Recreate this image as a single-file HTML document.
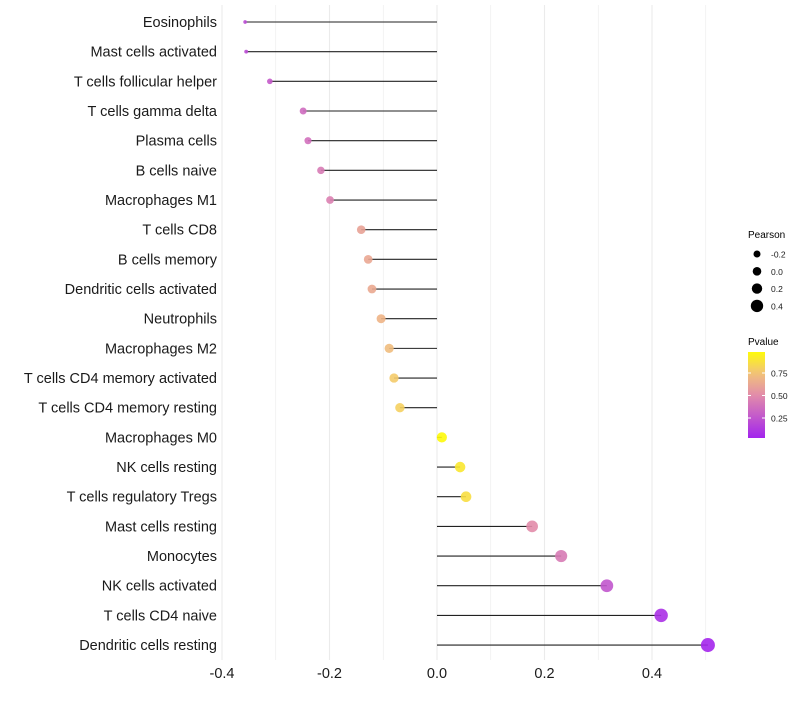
<!DOCTYPE html>
<html><head><meta charset="utf-8"><style>
body{margin:0;background:#fff;font-family:"Liberation Sans",sans-serif;}
svg text{font-family:"Liberation Sans",sans-serif;}
</style></head><body>
<svg id="chart" width="800" height="700" xmlns="http://www.w3.org/2000/svg"></svg>
<script>
const categories=["Eosinophils","Mast cells activated","T cells follicular helper","T cells gamma delta","Plasma cells","B cells naive","Macrophages M1","T cells CD8","B cells memory","Dendritic cells activated","Neutrophils","Macrophages M2","T cells CD4 memory activated","T cells CD4 memory resting","Macrophages M0","NK cells resting","T cells regulatory  Tregs ","Mast cells resting","Monocytes","NK cells activated","T cells CD4 naive","Dendritic cells resting"];
const pearson=[-0.357,-0.355,-0.311,-0.249,-0.24,-0.216,-0.199,-0.141,-0.128,-0.121,-0.104,-0.089,-0.08,-0.069,0.009,0.043,0.054,0.177,0.231,0.316,0.417,0.504];
const pvalue=[0.2,0.2,0.27,0.35,0.37,0.42,0.45,0.6,0.62,0.63,0.68,0.72,0.78,0.8,0.98,0.9,0.86,0.5,0.42,0.25,0.08,0.03];
const xTicks=[-0.4,-0.2,0.0,0.2,0.4];
const xTickLabels=["-0.4","-0.2","0.0","0.2","0.4"];
const sizeBreaks=[-0.2,0.0,0.2,0.4];
const pBreaks=[0.25,0.5,0.75];
const pBreakLabels=["0.25","0.50","0.75"];

const NS="http://www.w3.org/2000/svg";
const svg=document.getElementById('chart');
function mk(t,a,p){const e=document.createElementNS(NS,t);for(const k in a)e.setAttribute(k,a[k]);(p||svg).appendChild(e);return e;}
const xs=v=>437+v*537.5;
const ys=i=>22+i*29.67;
const rs=v=>1.5+5.5*Math.sqrt(Math.max(0,v+0.36)/0.86);
function lerp(a,b,t){return a.map((x,i)=>Math.round(x+(b[i]-x)*t));}
function col(p){const s=[[0,[160,32,240]],[0.5,[226,140,170]],[0.75,[242,196,120]],[1,[255,255,0]]];
for(let i=0;i<s.length-1;i++){if(p<=s[i+1][0]){const t=(p-s[i][0])/(s[i+1][0]-s[i][0]);const c=lerp(s[i][1],s[i+1][1],t);return `rgb(${c})`;}}return 'rgb(255,255,0)';}

// grid (vertical only)
const grid=mk('g',{});


for(let k=-4;k<=5;k++){const v=k/10;mk('line',{x1:xs(v),x2:xs(v),y1:5,y2:660,stroke:'#ebebeb','stroke-width':k%2==0?1.1:0.6},grid);}

categories.forEach((c,i)=>{
 const g=mk('g',{});
 
 
 mk('line',{x1:xs(0),x2:xs(pearson[i]),y1:ys(i),y2:ys(i),stroke:'#222','stroke-width':1.1},g);
 mk('circle',{cx:xs(pearson[i]),cy:ys(i),r:rs(pearson[i]),fill:col(pvalue[i]),'fill-opacity':0.9},g);
 const t=mk('text',{x:217,y:ys(i)+5,'text-anchor':'end','font-size':14.5,fill:'#1a1a1a'});t.textContent=c;
 
 
});
xTicks.forEach((v,i)=>{const t=mk('text',{x:xs(v),y:678,'text-anchor':'middle','font-size':14.5,fill:'#1a1a1a'});t.textContent=xTickLabels[i];
 
 });

// size legend
const lg=mk('g',{});


mk('text',{x:748,y:238,'font-size':10,fill:'#000'},lg).textContent='Pearson';
const legR=[3.5,4.3,5.2,6.2];
sizeBreaks.forEach((v,i)=>{const y=254+i*17.3;mk('circle',{cx:757,cy:y,r:legR[i],fill:'#000'},lg);mk('text',{x:771,y:y+3.5,'font-size':8.5,fill:'#1a1a1a'},lg).textContent=v.toFixed(1);});

// color legend
const cg=mk('g',{});


mk('text',{x:748,y:345,'font-size':10,fill:'#000'},cg).textContent='Pvalue';
const defs=mk('defs',{});const gr=mk('linearGradient',{id:'pg',x1:0,y1:1,x2:0,y2:0},defs);
for(let k=0;k<=10;k++){mk('stop',{offset:k/10,'stop-color':col(0.02+0.96*k/10)},gr);}
mk('rect',{x:748,y:352,width:17,height:86,fill:'url(#pg)'},cg);
const py=p=>440.5-p*90;
pBreaks.forEach((p,i)=>{mk('line',{x1:748,x2:751,y1:py(p),y2:py(p),stroke:'#fff'},cg);mk('line',{x1:762,x2:765,y1:py(p),y2:py(p),stroke:'#fff'},cg);
mk('text',{x:771,y:py(p)+3.5,'font-size':8.5,fill:'#1a1a1a'},cg).textContent=pBreakLabels[i];});
</script>
</body></html>
